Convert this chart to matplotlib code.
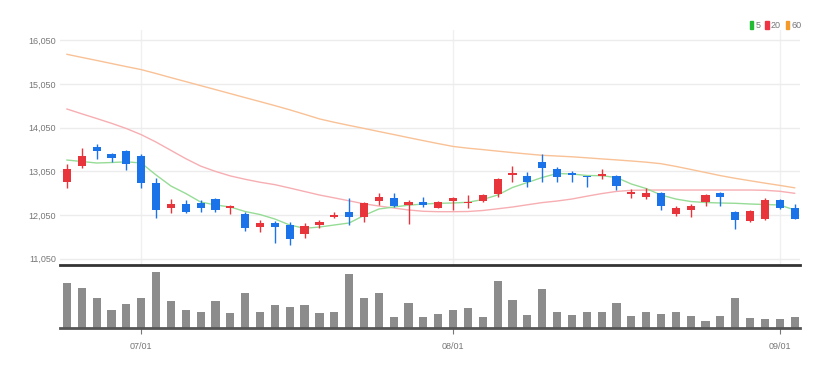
import matplotlib
matplotlib.use("Agg")
import matplotlib.pyplot as plt
from matplotlib.patches import Patch
import numpy as np
import pandas as pd

plt.rcParams['font.family'] = ['Liberation Sans', 'DejaVu Sans']

# trading days 2022-06-24 .. 2022-09-02 (8/15 holiday)
dates = [d for d in pd.bdate_range('2022-06-24', '2022-09-02') if d != pd.Timestamp('2022-08-15')]

opens = [12800, 13172, 13607, 13440, 13522, 13408, 12790, 12203, 12302, 12318,
         12410, 12210, 12073, 11775, 11867, 11821, 11615, 11814, 12011, 12112,
         12011, 12377, 12446, 12279, 12355, 12217, 12377, 12318, 12377, 12524,
         12966, 12950, 13257, 13103, 13012, 12950, 12943, 12950, 12531, 12455,
         12547, 12066, 12165, 12355, 12560, 12112, 11913, 11958, 12394, 12217]
closes = [13100, 13408, 13516, 13362, 13218, 12776, 12165, 12302, 12112, 12217,
          12158, 12249, 11745, 11867, 11775, 11500, 11805, 11890, 12050, 12011,
          12318, 12455, 12263, 12355, 12279, 12341, 12432, 12355, 12508, 12868,
          13005, 12813, 13120, 12927, 12966, 12920, 12982, 12721, 12570, 12547,
          12256, 12203, 12263, 12508, 12469, 11935, 12142, 12394, 12203, 11958]
highs = [13210, 13591, 13669, 13463, 13538, 13440, 12904, 12410, 12394, 12386,
         12432, 12279, 12126, 11929, 11913, 11883, 11860, 11936, 12126, 12446,
         12355, 12560, 12547, 12394, 12462, 12370, 12469, 12508, 12524, 12890,
         13179, 13028, 13447, 13142, 13058, 12950, 13097, 12966, 12645, 12661,
         12584, 12256, 12302, 12524, 12584, 12142, 12165, 12446, 12416, 12295]
lows = [12660, 13119, 13332, 13271, 13080, 12661, 11974, 12089, 12089, 12112,
        12112, 12080, 11684, 11668, 11402, 11363, 11530, 11745, 11974, 11821,
        11897, 12279, 12240, 11837, 12240, 12203, 12165, 12217, 12355, 12469,
        12813, 12698, 12813, 12813, 12813, 12698, 12867, 12622, 12432, 12416,
        12165, 12027, 12011, 12263, 12256, 11730, 11897, 11942, 12187, 11958]
volumes = [133, 117, 87, 53, 71, 87, 163, 78, 53, 46,
           78, 43, 102, 48, 68, 63, 68, 43, 46, 158,
           87, 103, 33, 73, 33, 41, 53, 58, 31, 138,
           81, 38, 113, 48, 38, 46, 46, 73, 36, 48,
           41, 48, 36, 21, 36, 87, 28, 26, 26, 33]  # thousand shares

ma5 = [13309, 13275, 13241, 13252, 13268, 13241, 12966, 12714, 12542, 12348,
       12279, 12233, 12130, 12061, 11958, 11821, 11745, 11775, 11821, 11867,
       12039, 12187, 12233, 12274, 12302, 12318, 12325, 12341, 12405, 12508,
       12680, 12794, 12909, 13000, 12989, 12955, 12950, 12909, 12760, 12657,
       12508, 12416, 12359, 12336, 12325, 12318, 12302, 12290, 12279, 12165]
ma20 = [14477, 14367, 14260, 14150, 14030, 13890, 13720, 13530, 13340, 13170,
        13048, 12945, 12868, 12800, 12745, 12668, 12588, 12508, 12442, 12375,
        12306, 12256, 12210, 12165, 12135, 12126, 12126, 12130, 12153, 12192,
        12233, 12284, 12334, 12370, 12416, 12480, 12540, 12590, 12615, 12622,
        12622, 12622, 12622, 12622, 12622, 12622, 12622, 12616, 12593, 12547]
ma60 = [15730, 15659, 15590, 15519, 15448, 15380, 15290, 15196, 15105, 15013,
        14922, 14830, 14738, 14647, 14555, 14459, 14356, 14251, 14173, 14102,
        14033, 13962, 13893, 13822, 13753, 13685, 13620, 13580, 13548, 13513,
        13479, 13447, 13417, 13401, 13383, 13360, 13335, 13312, 13287, 13260,
        13225, 13163, 13094, 13023, 12952, 12890, 12835, 12780, 12728, 12673]

price_ticks = [11050, 12050, 13050, 14050, 15050, 16050]

UP = '#e8343b'
DOWN = '#1a73e8'

x = np.arange(len(dates))
o = np.array(opens)
c = np.array(closes)
cols = [UP if cc >= oo else DOWN for oo, cc in zip(o, c)]

fig = plt.figure(figsize=(8.39, 3.68), dpi=100)
ax = fig.add_axes([0.0715, 0.2799, 0.882, 0.6386])
axv = fig.add_axes([0.0715, 0.1087, 0.882, 0.163], sharex=ax)

# moving averages
ax.plot(x, ma60, color='#f9c196', lw=1.0, zorder=2)
ax.plot(x, ma20, color='#f7aeb2', lw=1.0, zorder=2)
ax.plot(x, ma5, color='#96dc96', lw=1.0, zorder=2)

# candles
ax.vlines(x, lows, highs, colors=cols, lw=1, zorder=3)
body = np.where(np.abs(c - o) < 30, 30, c - o)
ax.bar(x, body, bottom=o, width=0.55, color=cols, zorder=4)

ax.set_xlim(-0.47, 49.36)
ax.set_ylim(10905, 16287)
ax.set_yticks(price_ticks)
ax.set_yticklabels([f'{v:,}' for v in price_ticks])
ax.tick_params(axis='y', length=0, colors='#777777', labelsize=6.5, pad=3)
ax.tick_params(axis='x', length=0, labelbottom=False)
ax.grid(axis='y', color='#ececec', lw=1)
for s in ['top', 'right', 'left']:
    ax.spines[s].set_visible(False)
ax.spines['bottom'].set_color('#333333')
ax.spines['bottom'].set_linewidth(2)

# month start ticks
tick_idx = [i for i in range(len(dates)) if i == 0 or dates[i].month != dates[i - 1].month][1:]
tick_lab = [dates[i].strftime('%m/%d') for i in tick_idx]
for i in tick_idx:
    ax.axvline(i, color='#f0f0f0', lw=1, zorder=0)

# volume
axv.bar(x, volumes, width=0.55, color='#8c8c8c')
axv.set_ylim(0, max(volumes) * 1.08)
axv.set_yticks([])
for s in ['top', 'right', 'left']:
    axv.spines[s].set_visible(False)
axv.spines['bottom'].set_color('#555555')
axv.spines['bottom'].set_linewidth(2)
axv.set_xticks(tick_idx)
axv.set_xticklabels(tick_lab)
axv.tick_params(axis='x', length=4, color='#777777', colors='#777777', labelsize=6.5, pad=6)

handles = [Patch(color='#22bb33'), Patch(color='#ee3344'), Patch(color='#f39a2a')]
fig.legend(handles, ['5', '20', '60'], loc='upper right', bbox_to_anchor=(0.965, 0.965),
           ncol=3, frameon=False, fontsize=6.5, handlelength=0.4, handleheight=1.0,
           handletextpad=0.25, columnspacing=0.5, labelcolor='#777777')

fig.savefig('out.png', dpi=100)
